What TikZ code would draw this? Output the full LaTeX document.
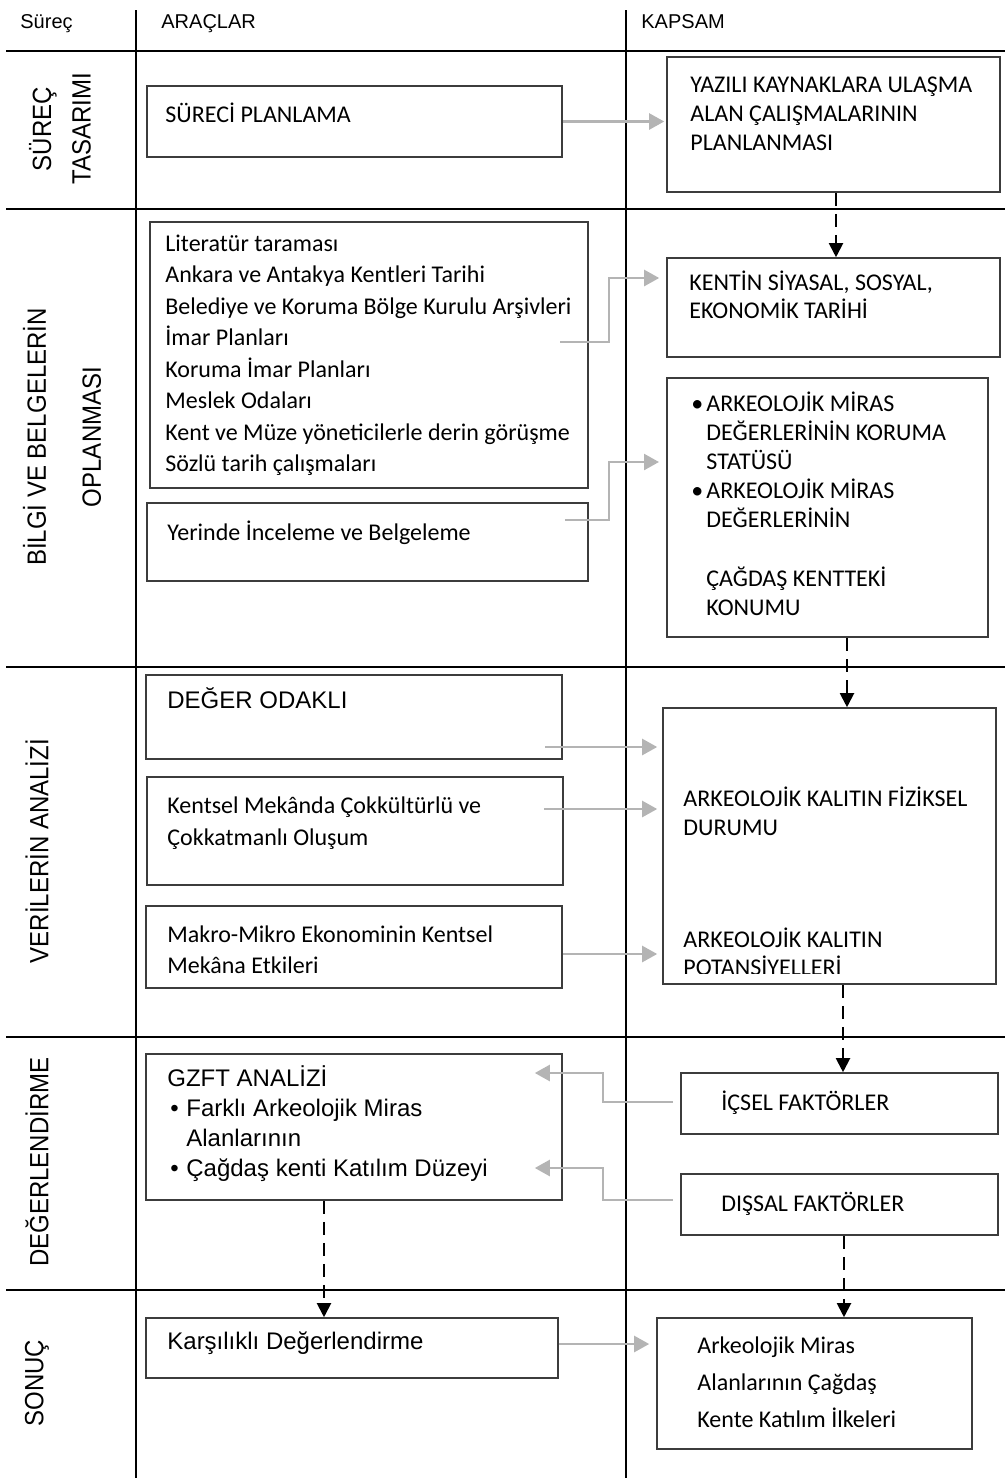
\documentclass[tikz,border=0pt]{standalone}
\usepackage{fontspec}
\setmainfont{Carlito}
\newfontfamily\arialfont{Liberation Sans}
\usetikzlibrary{positioning, arrows.meta, fit, calc}

\definecolor{boxline}{RGB}{60,60,60}
\definecolor{flowgray}{RGB}{180,180,180}

\tikzset{
  box/.style={draw=boxline, line width=0.8pt, inner sep=0pt},
  txt/.style={anchor=base west, inner sep=0pt, text width=240pt, align=flush left, font=\fontsize{12}{14.5}\selectfont},
  atxt/.style={txt, font=\arialfont\fontsize{12}{15}\selectfont},
  htxt/.style={anchor=base west, inner sep=0pt, font=\arialfont\fontsize{10}{12}\selectfont},
  lab/.style={rotate=90, yscale=1.1, inner sep=0pt, align=center, font=\arialfont\fontsize{12}{18}\selectfont},
  rowrule/.style={line width=1.4pt},
  colrule/.style={line width=1pt},
  grayflow/.style={draw=flowgray, line width=1.2pt, -{Triangle[length=7.5pt,width=8pt]}},
  dashflow/.style={line width=1pt, dash pattern=on 6.5pt off 4pt, -{Triangle[length=7pt,width=7pt]}},
}

\begin{document}
\begin{tikzpicture}[x=0.5pt,y=-0.5pt]
\useasboundingbox (0,0) rectangle (1005,1478);

% table
\draw[colrule] (135.5,10) -- (135.5,1478);
\draw[colrule] (626,10) -- (626,1478);
\foreach \yy in {51,209,667,1037,1290}
  \draw[rowrule] (6,\yy) -- (1005,\yy);

\node (hsurec) at (20,28) [htxt] {Süreç};
\node (haraclar) at (161,28) [htxt] {ARAÇLAR};
\node (hkapsam) at (641,28) [htxt] {KAPSAM};

% row labels
\node (lsurec) at (60,129) [lab] {SÜREÇ\\TASARIMI};
\node (lbilgi) at (62,437) [lab, font=\arialfont\fontsize{12}{25}\selectfont] {BİLGİ VE BELGELERİN\\OPLANMASI};
\node (lveri) at (37,851) [lab] {VERİLERİN ANALİZİ};
\node (ldeger) at (37,1162) [lab] {DEĞERLENDİRME};
\node (lsonuc) at (37,1383) [lab] {SONUÇ};

% boxes
\node (plan) [box, fit={(147,86) (562,157)}] {};
\node (yazili) [box, fit={(667,57) (1000,192)}] {};
\node (lit) [box, line width=1pt, fit={(150,222) (588,488)}] {};
\node (kentin) [box, fit={(667,258) (1000,357)}] {};
\node (yerinde) [box, fit={(147,503) (588,581)}] {};
\node (miras) [box, line width=1pt, fit={(667,378) (988,637)}] {};
\node (deger) [box, line width=1pt, fit={(146,675) (562,759)}] {};
\node (kentsel) [box, fit={(147,777) (563,885)}] {};
\node (makro) [box, fit={(146,906) (562,988)}] {};
\node (kalitin) [box, fit={(663,708) (996,984)}] {};
\node (gzft) [box, fit={(146,1054) (562,1200)}] {};
\node (icsel) [box, fit={(681,1073) (998,1134)}] {};
\node (dissal) [box, fit={(681,1174) (998,1235)}] {};
\node (karsi) [box, fit={(146,1318) (558,1378)}] {};
\node (ilke) [box, fit={(657,1318) (972,1449)}] {};

% texts
\node (plantxt) at (165,122) [txt] {SÜRECİ PLANLAMA};
\node (yazilitxt) at (690,92) [txt] {YAZILI KAYNAKLARA ULAŞMA\\ALAN ÇALIŞMALARININ\\PLANLANMASI};
\node (littxt) at (165,251) [txt, font=\fontsize{12}{15.75}\selectfont] {Literatür taraması\\Ankara ve Antakya Kentleri Tarihi\\Belediye ve Koruma Bölge Kurulu Arşivleri\\İmar Planları\\Koruma İmar Planları\\Meslek Odaları\\Kent ve Müze yöneticilerle derin görüşme\\Sözlü tarih çalışmaları};
\node (kentintxt) at (689,290) [txt, font=\fontsize{12}{14}\selectfont] {KENTİN SİYASAL, SOSYAL,\\EKONOMİK TARİHİ};
\node (yerindetxt) at (167,540) [txt] {Yerinde İnceleme ve Belgeleme};
\node (mirastxt) at (691,411) [txt, font=\fontsize{12}{14.6}\selectfont] {\makebox[7.5pt][l]{•}ARKEOLOJİK MİRAS\\\hspace*{7.5pt}DEĞERLERİNİN KORUMA\\\hspace*{7.5pt}STATÜSÜ\\\makebox[7.5pt][l]{•}ARKEOLOJİK MİRAS\\\hspace*{7.5pt}DEĞERLERİNİN\\[14.6pt]\hspace*{7.5pt}ÇAĞDAŞ KENTTEKİ\\\hspace*{7.5pt}KONUMU};
\node (degertxt) at (167,708) [atxt] {DEĞER ODAKLI};
\node (kentseltxt) at (167,813) [txt, font=\fontsize{12}{16}\selectfont] {Kentsel Mekânda Çokkültürlü ve\\Çokkatmanlı Oluşum};
\node (makrotxt) at (167,942) [txt, font=\fontsize{12}{15.5}\selectfont] {Makro-Mikro Ekonominin Kentsel\\Mekâna Etkileri};
\begin{scope}
\clip (663,708) rectangle (996,973);
\node (fiziktxt) at (683,806) [txt] {ARKEOLOJİK KALITIN FİZİKSEL\\DURUMU};
\node (potanstxt) at (683,947) [txt, font=\fontsize{12}{14}\selectfont] {ARKEOLOJİK KALITIN\\POTANSİYELLERİ};
\end{scope}
\node (gzfttxt) at (167,1086) [atxt] {GZFT ANALİZİ\\\makebox[9.5pt][l]{\hspace{1.5pt}•}Farklı Arkeolojik Miras\\\hspace*{9.5pt}Alanlarının\\\makebox[9.5pt][l]{\hspace{1.5pt}•}Çağdaş kenti Katılım Düzeyi};
\node (icseltxt) at (721,1110) [txt] {İÇSEL FAKTÖRLER};
\node (dissaltxt) at (721,1211) [txt] {DIŞSAL FAKTÖRLER};
\node (karsitxt) at (167,1349) [atxt] {Karşılıklı Değerlendirme};
\node (ilketxt) at (697,1353) [txt, font=\fontsize{12}{18.5}\selectfont] {Arkeolojik Miras\\Alanlarının Çağdaş\\Kente Katılım İlkeleri};

% gray connectors
\draw[grayflow, shorten >=1pt] (plan.east) -- (plan.east -| yazili.west);
\draw[grayflow] ($(lit.east |- 0,342)+(-29,0)$) -| (609,278) -- ($(kentin.west |- 0,278)+(-7,0)$);
\draw[grayflow] ($(yerinde.east |- 0,520)+(-24,0)$) -| (609,462) -- ($(miras.west |- 0,462)+(-7,0)$);
\draw[grayflow, shorten >=2.5pt] ($(deger.east |- 0,747)+(-18,0)$) -- (kalitin.west |- 0,747);
\draw[grayflow, shorten >=2.5pt] ($(kentsel.east |- 0,809)+(-20,0)$) -- (kalitin.west |- 0,809);
\draw[grayflow, shorten >=2.5pt] (makro.east |- 0,954) -- (kalitin.west |- 0,954);
\draw[grayflow] ($(icsel.west |- 0,1102)+(-7,0)$) -| (603,1073) -- ($(gzft.east |- 0,1073)+(-28,0)$);
\draw[grayflow] ($(dissal.west |- 0,1200)+(-7,0)$) -| (603,1168) -- ($(gzft.east |- 0,1168)+(-28,0)$);
\draw[grayflow, shorten >=3.5pt] (karsi.east |- 0,1344) -- (ilke.west |- 0,1344);

% dashed connectors
\draw[dashflow] (yazili.south -| 836,0) -- (kentin.north -| 836,0);
\draw[dashflow] (miras.south -| 847,0) -- (kalitin.north -| 847,0);
\draw[dashflow] (kalitin.south -| 843,0) -- (icsel.north -| 843,0);
\draw[dashflow] (dissal.south -| 844,0) -- (ilke.north -| 844,0);
\draw[dashflow] (gzft.south -| 324,0) -- (karsi.north -| 324,0);

\end{tikzpicture}
\end{document}
